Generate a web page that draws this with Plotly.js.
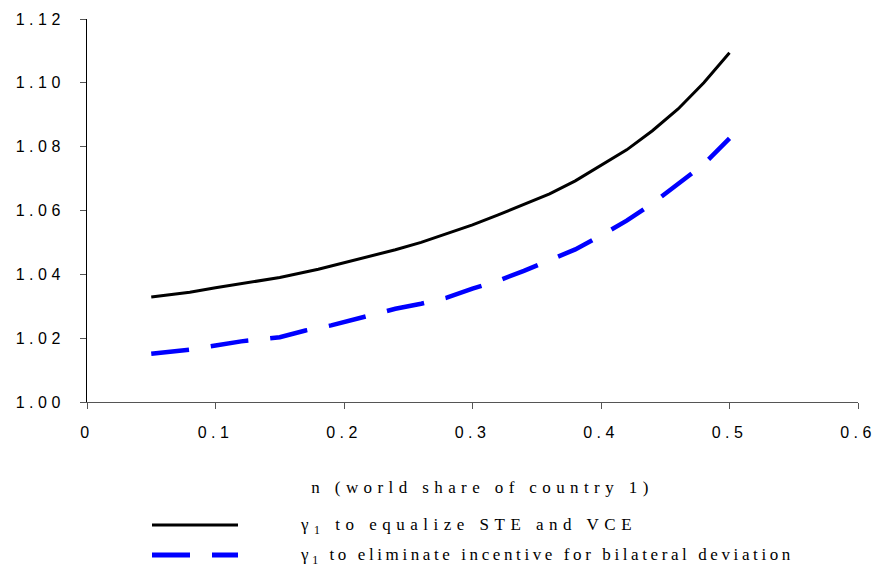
<!DOCTYPE html>
<html>
<head>
<meta charset="utf-8">
<script src="https://cdn.plot.ly/plotly-3.0.1.min.js"></script>
<style>
  html, body { margin: 0; padding: 0; background: #fff; }
  #chart { width: 877px; height: 575px; }
  g.xtick text, g.ytick text { letter-spacing: 4.5px; }
  text.xtitle { letter-spacing: 5.4px; transform: translateX(10px); }
  g.annotation[data-index="0"] text.annotation-text { letter-spacing: 5.5px; }
  g.annotation[data-index="1"] text.annotation-text { letter-spacing: 3.6px; }
</style>
</head>
<body>
<div id="chart"></div>
<script>
// Data
const nSTE = [0.05, 0.08, 0.10, 0.12, 0.15, 0.18, 0.20, 0.22, 0.24, 0.26, 0.28, 0.30, 0.32, 0.34, 0.36, 0.38, 0.40, 0.42, 0.44, 0.46, 0.48, 0.50];
const gammaSTE = [1.0329, 1.0344, 1.0358, 1.0371, 1.0390, 1.0416, 1.0436, 1.0455, 1.0477, 1.0500, 1.0528, 1.0555, 1.0586, 1.0620, 1.0652, 1.0693, 1.0742, 1.0790, 1.0850, 1.0918, 1.1000, 1.1094];

const nBil = [0.05, 0.08, 0.10, 0.12, 0.15, 0.17, 0.19, 0.21, 0.24, 0.26, 0.28, 0.30, 0.32, 0.34, 0.36, 0.38, 0.40, 0.42, 0.44, 0.46, 0.48, 0.50];
const gammaBil = [1.0151, 1.0164, 1.0177, 1.0190, 1.0203, 1.0224, 1.0240, 1.0261, 1.0292, 1.0308, 1.0327, 1.0355, 1.0380, 1.0411, 1.0443, 1.0478, 1.0522, 1.0568, 1.0622, 1.0683, 1.0745, 1.0826];

const xTicks = [0, 0.1, 0.2, 0.3, 0.4, 0.5, 0.6];
const xTickLabels = ['0', '0.1', '0.2', '0.3', '0.4', '0.5', '0.6'];
const yTicks = [1.00, 1.02, 1.04, 1.06, 1.08, 1.10, 1.12];
const yTickLabels = ['1.00', '1.02', '1.04', '1.06', '1.08', '1.10', '1.12'];

const seriesNames = ['γ<sub>1</sub> to equalize STE and VCE', 'γ<sub>1</sub> to eliminate incentive for bilateral deviation'];
const xTitle = 'n (world share of country 1)';

const serif = 'Liberation Serif, Times New Roman, serif';
const sans = 'Liberation Sans, Arial, sans-serif';

const traces = [
  { x: nSTE, y: gammaSTE, mode: 'lines', name: seriesNames[0],
    line: { color: '#000000', width: 3 }, showlegend: false, hoverinfo: 'skip' },
  { x: nBil, y: gammaBil, mode: 'lines', name: seriesNames[1],
    line: { color: '#0000ff', width: 4.5, dash: '38px,22px' }, showlegend: false, hoverinfo: 'skip' }
];

const layout = {
  width: 877, height: 575,
  margin: { l: 87, r: 19, t: 19, b: 173 },
  paper_bgcolor: '#ffffff', plot_bgcolor: '#ffffff',
  showlegend: false,
  xaxis: {
    range: [0, 0.6], tickmode: 'array', tickvals: xTicks, ticktext: xTickLabels,
    showgrid: false, zeroline: false, showline: true, linecolor: '#555555', linewidth: 1,
    ticks: 'outside', ticklen: 6, tickcolor: '#555555', tickwidth: 1,
    tickfont: { family: sans, size: 16, color: '#000' }, ticklabelstandoff: 10,
    title: { text: xTitle, font: { family: serif, size: 17, color: '#000' }, standoff: 40 }
  },
  yaxis: {
    range: [1.00, 1.12], tickmode: 'array', tickvals: yTicks, ticktext: yTickLabels,
    showgrid: false, zeroline: false, showline: true, linecolor: '#000000', linewidth: 1,
    ticks: 'outside', ticklen: 6, tickcolor: '#555555', tickwidth: 1,
    tickfont: { family: sans, size: 16, color: '#000' }, ticklabelstandoff: 12
  },
  shapes: [
    { type: 'line', xref: 'paper', yref: 'paper', x0: (152-87)/771, x1: (238-87)/771, y0: (402-525)/383, y1: (402-525)/383,
      line: { color: '#000000', width: 3 } },
    { type: 'line', xref: 'paper', yref: 'paper', x0: (152-87)/771, x1: (238-87)/771, y0: (402-555)/383, y1: (402-555)/383,
      line: { color: '#0000ff', width: 5, dash: '38px,22px' } }
  ],
  annotations: [
    { xref: 'paper', yref: 'paper', x: (298-87)/771, y: (402-526)/383, xanchor: 'left', yanchor: 'middle', align: 'left',
      text: seriesNames[0], showarrow: false, font: { family: serif, size: 17, color: '#000' } },
    { xref: 'paper', yref: 'paper', x: (298-87)/771, y: (402-556)/383, xanchor: 'left', yanchor: 'middle', align: 'left',
      text: seriesNames[1], showarrow: false, font: { family: serif, size: 17, color: '#000' } }
  ]
};

Plotly.newPlot('chart', traces, layout, { staticPlot: true, displayModeBar: false });
</script>
</body>
</html>
